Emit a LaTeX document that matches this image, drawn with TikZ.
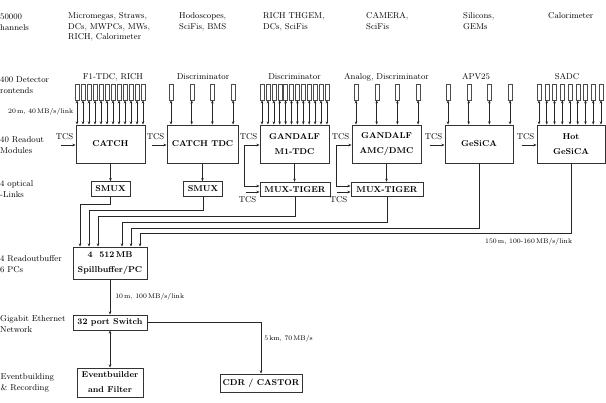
\documentclass[tikz,border=0pt]{standalone}
\usetikzlibrary{positioning, arrows.meta, calc}

\begin{document}
\begin{tikzpicture}[
  x=1pt, y=-1pt,
  font=\fontsize{8.5}{10.5}\selectfont,
  module/.style={draw=black!80, line width=0.9pt, align=center, inner sep=0pt,
    minimum width=69pt, minimum height=38pt, font=\fontsize{8.5}{15}\selectfont\bfseries},
  mux/.style={module, minimum height=14.5pt},
  card/.style={draw=black!70, line width=0.4pt, minimum width=4pt, minimum height=16pt, inner sep=0pt},
  link/.style={draw=black!85, line width=0.55pt},
  tip/.style={link, -{Stealth[length=3.2pt, width=2.6pt]}},
  twotip/.style={link, {Stealth[length=3.2pt, width=2.6pt]}-{Stealth[length=3.2pt, width=2.6pt]}},
  rate/.style={font=\fontsize{6.8}{8}\selectfont, inner sep=0pt},
  side/.style={anchor=west, align=left, inner sep=0pt},
  det/.style={anchor=north west, align=left, inner sep=0pt}
]
\useasboundingbox (0,0) rectangle (606,403);

% Left column
\node[side] (l-chan) at (0,22) {50000\\hannels};
\node[side] (l-fe) at (0,85) {400 Detector\\rontends};
\node[side] (l-rm) at (0,145) {40 Readout\\Modules};
\node[side] (l-sl) at (0,189) {4 optical\\-Links};
\node[side] (l-rb) at (0,264) {4 Readoutbuffer\\6 PCs};
\node[side] (l-gb) at (0,324) {Gigabit Ethernet\\Network};
\node[side] (l-eb) at (0.5,383) {Eventbuilding\\\& Recording};

% Detectors
\node[det] (d-gas) at (68,12.5) {Micromegas, Straws,\\DCs, MWPCs, MWs,\\RICH, Calorimeter};
\node[det] (d-hod) at (179,12.5) {Hodoscopes,\\SciFis, BMS};
\node[det] (d-thg) at (263,12.5) {RICH THGEM,\\DCs, SciFis};
\node[det] (d-cam) at (366,12.5) {CAMERA,\\SciFis};
\node[det] (d-sil) at (463,12.5) {Silicons,\\GEMs};
\node[det] (d-cal) at (548,12.5) {Calorimeter};

% Frontend types
\node (fe-catch) at (113,77) {F1-TDC, RICH};
\node (fe-tdc) at (203,77) {Discriminator};
\node (fe-gm1) at (294.5,77) {Discriminator};
\node (fe-gamc) at (386.5,77) {Analog, Discriminator};
\node (fe-ges) at (476,77) {APV25};
\node (fe-hot) at (567,77) {SADC};

% Readout modules
\node[module] (catch) at (110.5,144) {CATCH};
\node[module, minimum width=71pt] (catchtdc) at (202.5,144) {CATCH TDC};
\node[module] (gm1) at (294.5,144) {GANDALF\\M1-TDC};
\node[module] (gamc) at (386.5,144) {GANDALF\\AMC/DMC};
\node[module, minimum width=68pt] (gesica) at (479,144) {GeSiCA};
\node[module, minimum width=68pt] (hot) at (571,144) {Hot\\GeSiCA};

% Frontend cards
\foreach \b/\first/\n/\step in {catch/77/12/6, catchtdc/171/4/20.7, gm1/262/12/5.9,
    gamc/356/4/20.7, gesica/448/4/20.7, hot/539/9/7.75} {
  \foreach \i in {1,...,\n} {
    \node[card] (\b-fe\i) at (\first+\step*\i-\step, 92) {};
    \draw[twotip] (\b-fe\i) -- (\b-fe\i |- \b.north);
  }
}
\node[rate, anchor=west] (r-fe) at (8,112) {20\,m, 40\,MB/s/link};

% TCS inputs
\foreach \m in {catch,catchtdc,gm1,gamc,gesica,hot} {
  \node[anchor=east, inner sep=0pt] (tcs-\m) at ([xshift=-2pt, yshift=7pt]\m.west) {TCS};
  \coordinate (tin-\m) at ([xshift=-15pt, yshift=-1pt]\m.west);
  \draw[tip] (tin-\m) -- (tin-\m -| \m.west);
}

% Multiplexers
\node[mux, minimum width=39pt] (smux1) at (110.5,189) {SMUX};
\node[mux, minimum width=39pt] (smux2) at (203,189) {SMUX};
\node[mux, minimum width=70pt] (mux1) at (295,189.5) {MUX-TIGER};
\node[mux, minimum width=72pt] (mux2) at (387,189.5) {MUX-TIGER};

\draw[tip] (catch) -- (smux1);
\draw[tip] (catchtdc.south) -- (catchtdc.south |- smux2.north);
\foreach \g/\x in {gm1/mux1, gamc/mux2} {
  \draw[tip] (\g.south) -- (\g.south |- \x.north);
  \draw[tip] (tin-\g) |- ([yshift=3.5pt]\x.west);
  \coordinate (tlow-\x) at ([xshift=-14pt, yshift=-2.5pt]\x.west);
  \draw[tip] (tlow-\x) -- (tlow-\x -| \x.west);
  \node[anchor=east, inner sep=0pt] (tcs-\x) at ([xshift=-3pt, yshift=-10.5pt]\x.west) {TCS};
}

% Readout buffer
\node[module, minimum width=74pt, minimum height=32pt] (spill) at (110,263) {4~~512\,MB\\Spillbuffer/PC};

\foreach \s/\x/\y in {smux1/80/204, smux2/89/210, mux1/98/216, mux2/122/222, gesica/131/228, hot/140/233} {
  \coordinate (bus-\s) at (\x,\y);
  \draw[tip] (\s.south) |- (bus-\s) -- (bus-\s |- spill.north);
}
\node[rate, anchor=west] (r-bus) at (485,242) {150\,m, 100-160\,MB/s/link};

% Network and recording
\node[mux, minimum width=74pt, minimum height=15pt] (switch) at (110,322.5) {32 port Switch};
\node[module, minimum width=66pt, minimum height=29pt] (evb) at (110,382.5) {Eventbuilder\\and Filter};
\node[mux, minimum width=82pt, minimum height=18pt] (cdr) at (261,383) {CDR / CASTOR};

\draw[tip] (spill) -- node[rate, right=5pt] (r-eth) {10\,m, 100\,MB/s/link} (switch);
\draw[twotip] (switch) -- (evb);
\draw[tip] (switch) -| node[rate, pos=0.66, right=3pt] (r-cdr) {5\,km, 70\,MB/s} (cdr);

\end{tikzpicture}
\end{document}
